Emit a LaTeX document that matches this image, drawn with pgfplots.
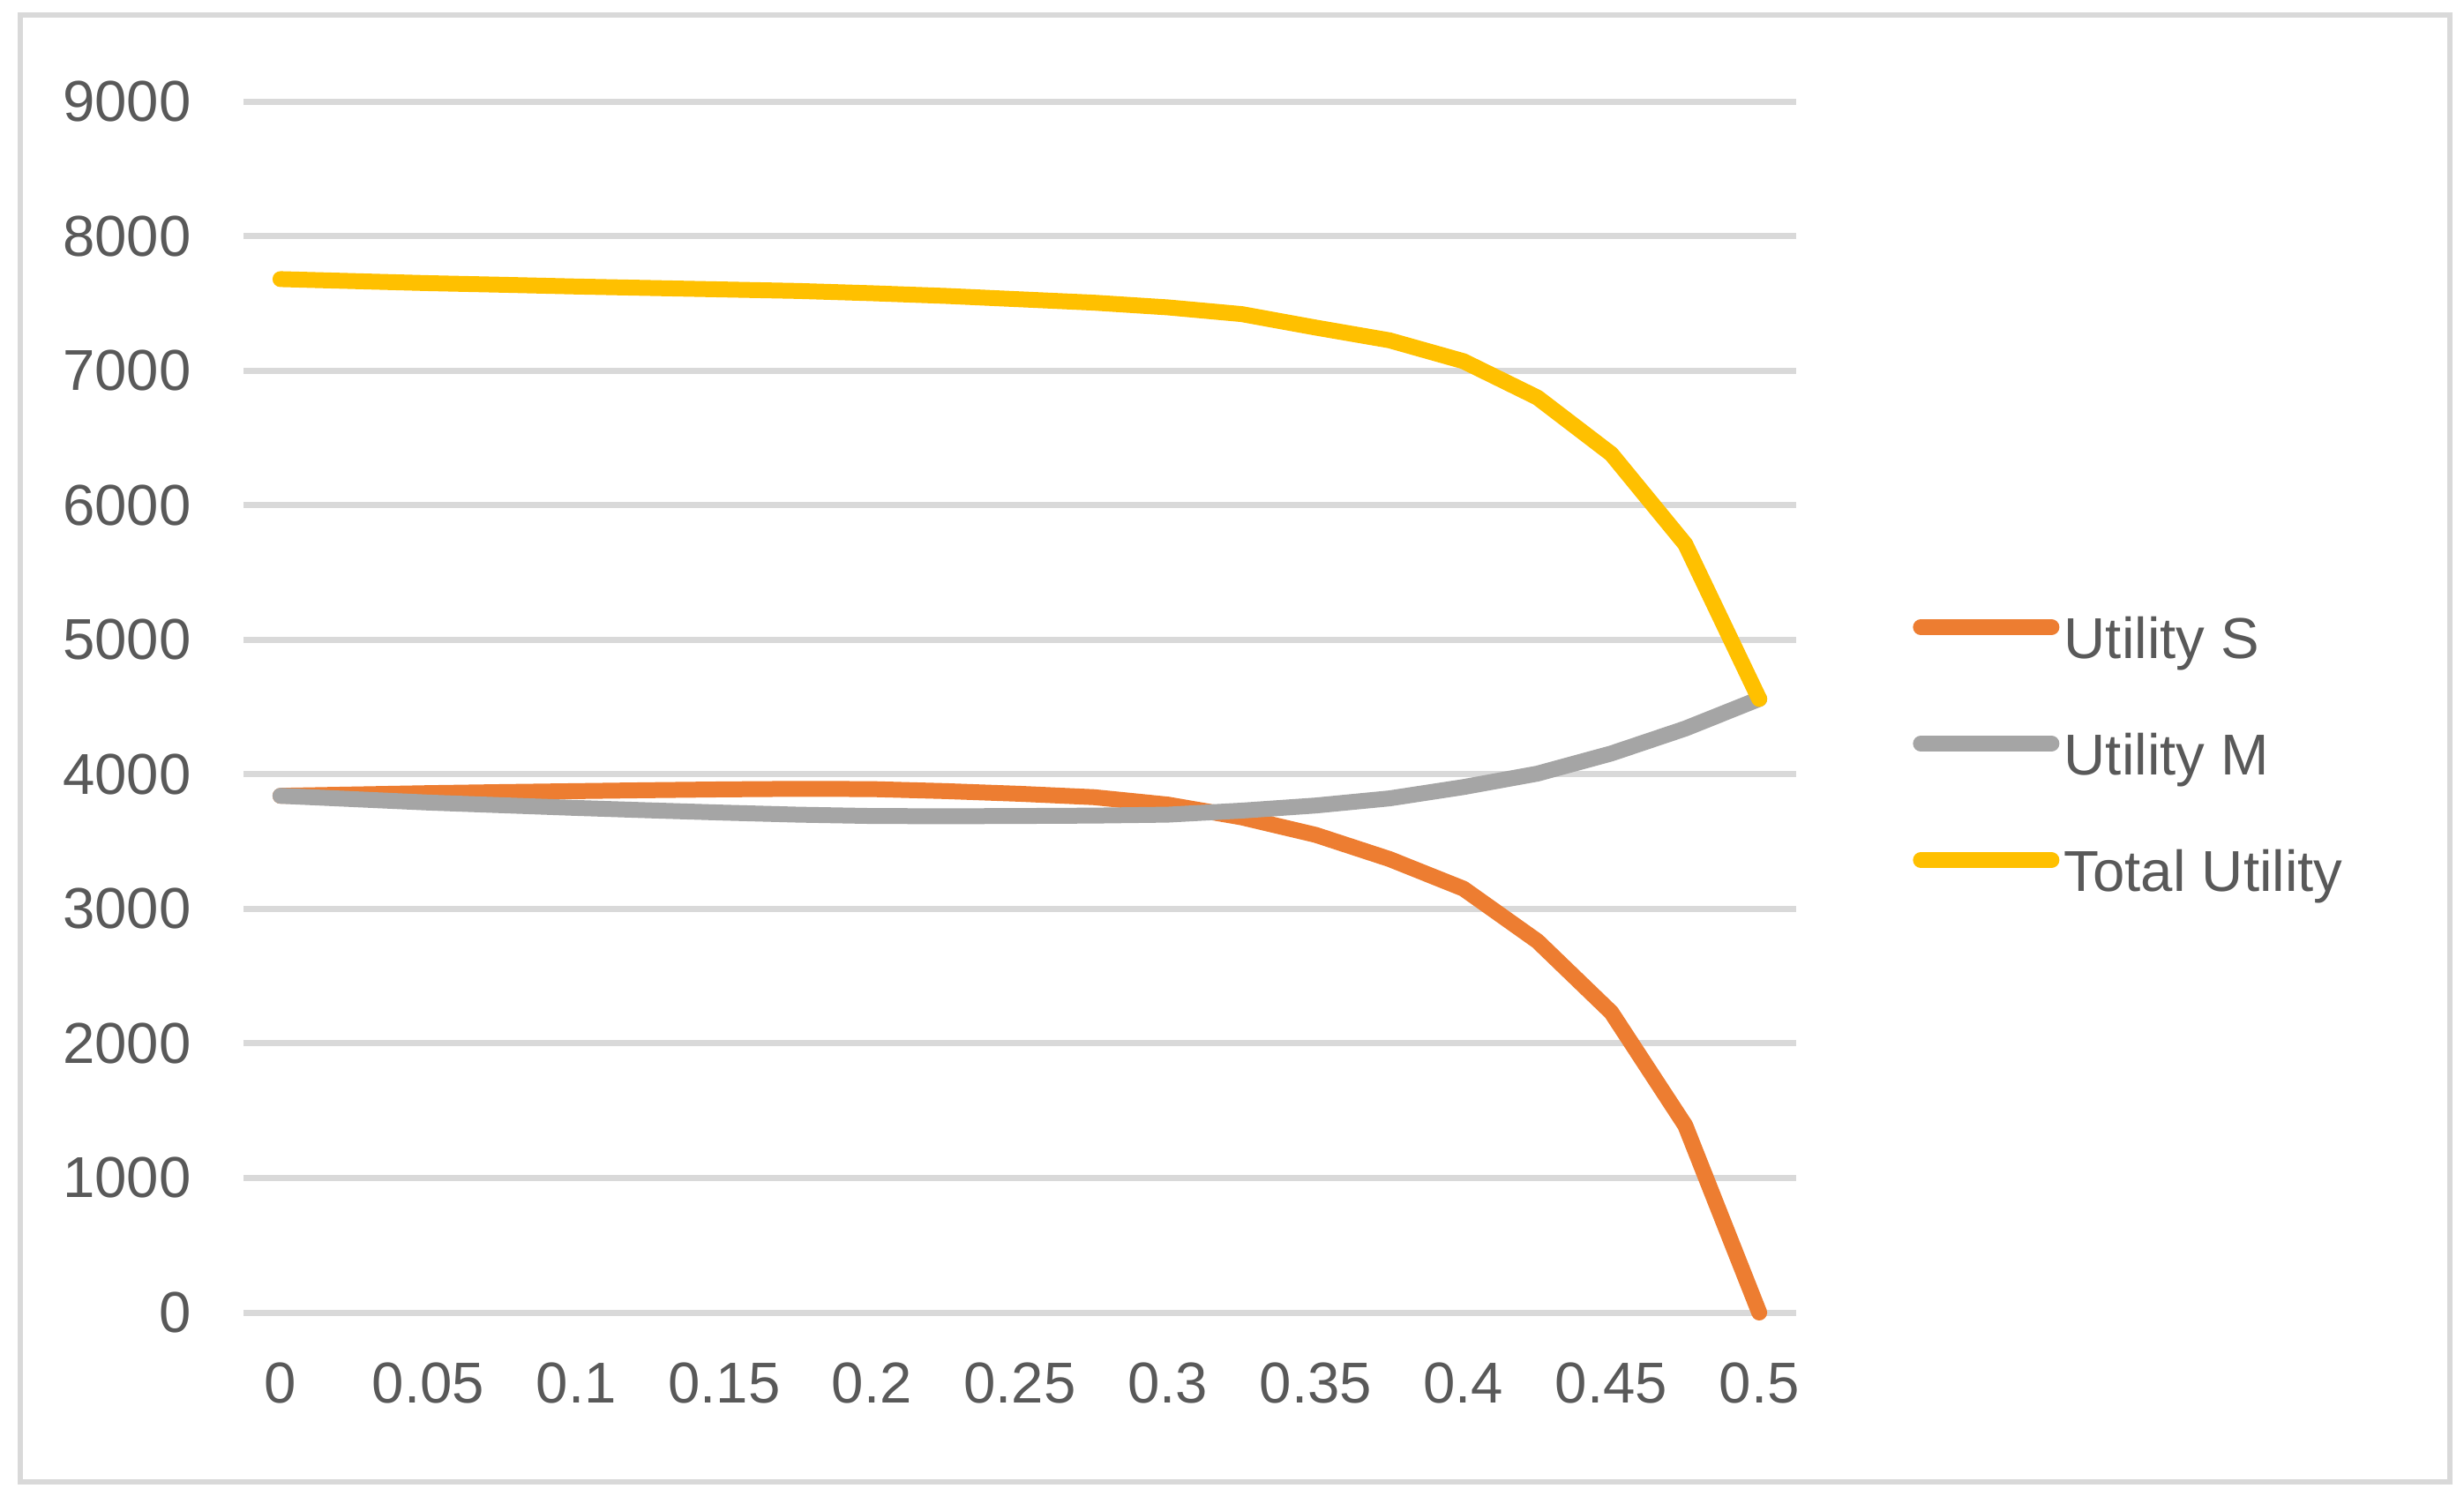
\documentclass[border=0pt]{standalone}
\usepackage{pgfplots}
\pgfplotsset{compat=1.18}
\usepackage{pgfplotstable}
\usepackage{fontspec}
\setmainfont{Liberation Sans}
\definecolor{cS}{HTML}{ED7D31}
\definecolor{cM}{HTML}{A5A5A5}
\definecolor{cT}{HTML}{FFC000}
\definecolor{gridc}{HTML}{D9D9D9}
\definecolor{textc}{HTML}{595959}
\pgfplotstableread{
i  S     M     T
0  3840  3840  7680
1  3850  3815  7665
2  3860  3790  7650
3  3868  3770  7638
4  3875  3750  7625
5  3882  3732  7614
6  3888  3715  7603
7  3892  3700  7592
8  3890  3690  7575
9  3875  3688  7555
10 3855  3690  7530
11 3830  3693  7505
12 3775  3700  7470
13 3680  3730  7420
14 3550  3768  7320
15 3370  3821  7225
16 3150  3905  7070
17 2760  4005  6800
18 2230  4155  6380
19 1390  4340  5710
20 0     4560  4560
}\datatable
\begin{document}
\begin{tikzpicture}
\fill[white] (0pt,0pt) rectangle (418.95pt,254.25pt);
\draw[gridc, line width=1pt] (3.45pt,2.25pt) rectangle (416.55pt,251.7pt);
\begin{axis}[
  at={(41.4pt,31.05pt)}, anchor=south west,
  scale only axis, width=264pt, height=205.95pt,
  xmin=-0.5, xmax=20.5, ymin=0, ymax=9000,
  xtick={0,2,...,20},
  xticklabels={0,0.05,0.1,0.15,0.2,0.25,0.3,0.35,0.4,0.45,0.5},
  ytick={0,1000,...,9000},
  ymajorgrids, grid style={line width=1.05pt, color=gridc},
  axis line style={draw=none}, major tick length=0pt,
  /pgf/number format/assume math mode=true,
  /pgf/number format/1000 sep={},
  tick label style={font=\fontsize{9.8}{12}\selectfont, text=textc, inner sep=0pt},
  yticklabel style={anchor=east, xshift=-8.7pt},
  xticklabel style={anchor=north, yshift=-8.3pt},
  clip=false,
  legend cell align=left,
  legend style={draw=none, fill=none, inner sep=0pt, outer sep=0pt,
    at={(rel axis cs:1.0752,0.5754)}, anchor=north west,
    font=\fontsize{9.8}{12}\selectfont, text=textc,
    row sep=10.5pt, column sep=0.8pt,
    nodes={inner sep=0pt, text height=7.2pt, text depth=2.1pt}},
  legend image code/.code={\draw[line width=2.7pt, line cap=round] (0pt,2.7pt) -- (22.2pt,2.7pt);},
]
\addplot[cS, line width=2.7pt, line join=round, line cap=round] table[x=i, y=S] {\datatable};
\addlegendentry{Utility S}
\addplot[cM, line width=2.7pt, line join=round, line cap=round] table[x=i, y=M] {\datatable};
\addlegendentry{Utility M}
\addplot[cT, line width=2.7pt, line join=round, line cap=round] table[x=i, y=T] {\datatable};
\addlegendentry{Total Utility}
\end{axis}
\end{tikzpicture}
\end{document}
